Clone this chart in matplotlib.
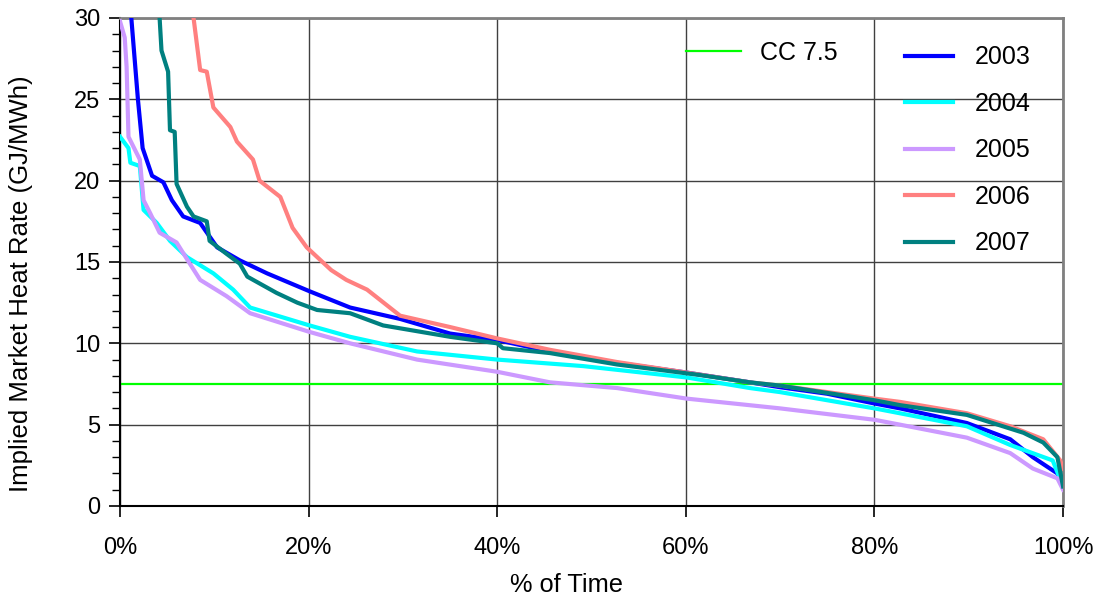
import matplotlib
matplotlib.use("Agg")
import matplotlib.pyplot as plt
from matplotlib.ticker import MultipleLocator, FuncFormatter

plt.rcParams['font.family'] = ['Liberation Sans', 'DejaVu Sans']

# % of time (x) and implied heat rate (y) for each year
x2003 = [0.0, 1.2, 1.9, 2.4, 3.4, 4.6, 5.5, 6.7, 8.5, 10.3, 12.7, 15.6, 20.1, 24.4, 29.7, 35.0, 40.0, 45.6, 52.7, 60.1, 66.8, 70.0, 75.0, 80.0, 82.7, 89.8, 94.4, 96.8, 99.4, 100.0]
y2003 = [34.0, 30.0, 25.0, 22.0, 20.3, 19.9, 18.8, 17.8, 17.4, 15.9, 15.1, 14.3, 13.2, 12.2, 11.5, 10.6, 10.2, 9.5, 8.8, 8.2, 7.6, 7.3, 6.9, 6.3, 6.0, 5.1, 4.1, 3.0, 2.0, 1.2]

x2004 = [0.0, 0.9, 1.1, 2.1, 2.5, 3.9, 5.3, 7.1, 9.9, 12.0, 13.8, 20.1, 24.4, 31.5, 40.0, 49.1, 60.1, 66.8, 70.0, 80.0, 82.7, 89.8, 94.4, 98.9, 100.0]
y2004 = [22.7, 22.0, 21.1, 20.9, 18.2, 17.4, 16.3, 15.3, 14.3, 13.3, 12.2, 11.1, 10.4, 9.5, 9.0, 8.6, 7.9, 7.25, 7.0, 6.0, 5.7, 4.9, 3.75, 2.8, 1.2]

x2005 = [0.0, 0.5, 0.7, 0.9, 2.1, 2.5, 3.2, 4.2, 6.0, 7.4, 8.5, 11.3, 13.8, 20.1, 24.4, 31.5, 40.0, 45.6, 52.7, 60.1, 70.0, 80.0, 82.7, 89.8, 94.4, 96.8, 99.4, 100.0]
y2005 = [29.8, 28.8, 27.0, 22.7, 21.3, 18.8, 18.0, 16.8, 16.2, 14.9, 13.9, 12.9, 11.85, 10.7, 10.0, 9.0, 8.25, 7.6, 7.25, 6.6, 6.0, 5.3, 5.0, 4.2, 3.25, 2.3, 1.7, 1.0]

x2006 = [7.0, 7.8, 8.5, 9.2, 9.9, 11.7, 12.4, 14.1, 14.8, 17.0, 18.3, 19.8, 22.4, 24.0, 26.2, 29.7, 35.0, 40.0, 45.6, 52.7, 60.1, 66.8, 70.0, 80.0, 82.7, 89.8, 94.4, 97.9, 99.7, 100.0]
y2006 = [34.0, 30.0, 26.8, 26.7, 24.5, 23.3, 22.4, 21.3, 20.0, 19.0, 17.1, 15.9, 14.5, 13.9, 13.3, 11.7, 11.0, 10.3, 9.6, 8.85, 8.2, 7.6, 7.4, 6.6, 6.4, 5.7, 4.9, 4.1, 2.8, 2.3]

x2007 = [4.0, 4.2, 4.4, 5.1, 5.3, 5.8, 6.0, 7.1, 7.8, 9.2, 9.5, 11.3, 12.7, 13.5, 16.6, 18.8, 20.9, 24.4, 27.9, 35.0, 40.0, 40.6, 45.6, 52.7, 61.5, 66.8, 70.0, 80.0, 82.7, 89.8, 95.8, 97.9, 99.4, 100.0]
y2007 = [34.0, 30.0, 28.0, 26.7, 23.1, 23.0, 19.8, 18.4, 17.8, 17.5, 16.3, 15.5, 14.9, 14.1, 13.1, 12.5, 12.05, 11.85, 11.1, 10.4, 10.0, 9.7, 9.4, 8.7, 8.05, 7.6, 7.4, 6.5, 6.2, 5.6, 4.5, 3.9, 3.0, 1.2]

cc_level = 7.5
series = [
    ("2003", x2003, y2003, "#0000FF"),
    ("2004", x2004, y2004, "#00FFFF"),
    ("2005", x2005, y2005, "#CC99FF"),
    ("2006", x2006, y2006, "#FF8080"),
    ("2007", x2007, y2007, "#008080"),
]
x_ticks = [0, 20, 40, 60, 80, 100]
y_ticks = [0, 5, 10, 15, 20, 25, 30]

fig = plt.figure(figsize=(11.07, 6.0), dpi=100)
ax = fig.add_axes([0.1084, 0.1567, 0.8519, 0.8133])

cc_line = ax.axhline(cc_level, color="#00FF00", lw=1.6, zorder=2, label="CC 7.5")
handles = []
for name, xs, ys, col in series:
    h, = ax.plot(xs, ys, color=col, lw=3.0, zorder=3, label=name)
    handles.append(h)

ax.set_xlim(0, 100)
ax.set_ylim(0, 30)
ax.set_xticks(x_ticks)
ax.set_yticks(y_ticks)
ax.yaxis.set_minor_locator(MultipleLocator(1))
ax.xaxis.set_major_formatter(FuncFormatter(lambda v, p: f"{int(v)}%"))
ax.grid(True, which="major", color="#404040", lw=1.0, zorder=1)
ax.tick_params(axis="both", which="major", direction="out", length=8, width=1.2, labelsize=17, color="black")
ax.tick_params(axis="y", which="minor", direction="out", length=6, width=1.0, color="black")
ax.tick_params(axis="x", pad=14)
ax.tick_params(axis="y", pad=6)
for side in ("left", "bottom"):
    ax.spines[side].set_color("black")
    ax.spines[side].set_linewidth(1.5)
for side in ("top", "right"):
    ax.spines[side].set_color("#808080")
    ax.spines[side].set_linewidth(2.0)

ax.set_xlabel("% of Time", fontsize=18.3)
ax.set_ylabel("Implied Market Heat Rate (GJ/MWh)", fontsize=18.5)
ax.xaxis.set_label_coords(0.473, -0.137)
ax.yaxis.set_label_coords(-0.0923, 0.455)

leg1 = ax.legend([cc_line], ["CC 7.5"], loc="upper left", bbox_to_anchor=(0.5765, 1.0),
                 frameon=False, fontsize=18, handlelength=2.2, handletextpad=0.75)
ax.add_artist(leg1)
ax.legend(handles=handles, loc="upper left", bbox_to_anchor=(0.8086, 0.99), frameon=False,
          fontsize=18, handlelength=1.9, handletextpad=0.9, labelspacing=0.9)

fig.savefig("out.png", dpi=100)
